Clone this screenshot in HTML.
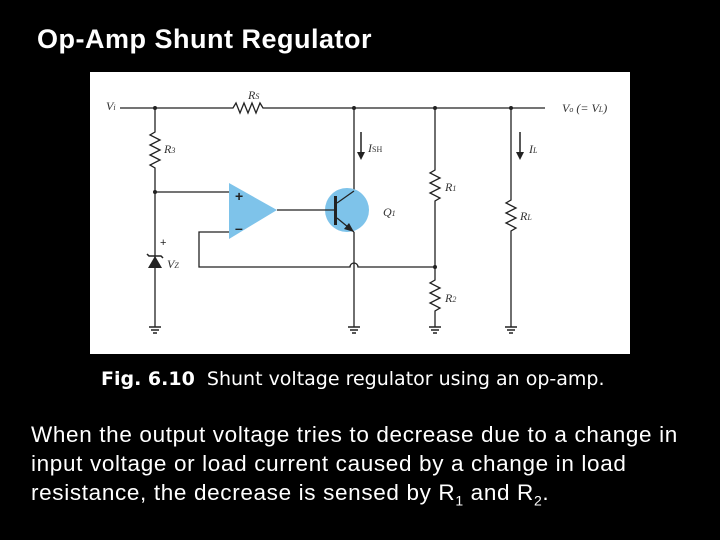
<!DOCTYPE html><html><head><style>
body{margin:0;width:720px;height:540px;background:#000;overflow:hidden;font-family:"Liberation Sans",sans-serif;position:relative}
.t{position:absolute;color:#fff;white-space:nowrap}
</style></head><body>
<div class="t" style="left:37px;top:24px;font-size:27px;font-weight:bold;letter-spacing:0.5px">Op-Amp Shunt Regulator</div>
<svg style="position:absolute;left:0;top:0" width="720" height="540">
<rect x="90" y="72" width="540" height="282" fill="#fff"/>
<g stroke="#222" stroke-width="1.3" fill="none">
<path d="M120 108H233 l3 -5 l4 10 l4 -10 l4 10 l4 -10 l4 10 l4 -10 l3 5 H545"/>
<path d="M155 108V132 l-5 3 l10 5 l-10 5 l10 5 l-10 5 l10 5 l-10 5 l5 3 V327"/>
<path d="M155 192H229"/>
<path d="M229 232H199V267H350 a4 4 0 0 1 8 0 H435"/>
<path d="M354 108V191 M354 232 V327"/>
<path d="M435 108V170 l-5 3 l10 5 l-10 5 l10 5 l-10 5 l10 5 l-5 3 V280 l-5 3 l10 5 l-10 5 l10 5 l-10 5 l10 5 l-5 3 V327"/>
<path d="M511 108V200 l-5 3 l10 5 l-10 5 l10 5 l-10 5 l10 5 l-5 3 V327"/>
</g>
<g fill="#222"><circle cx="155" cy="108" r="2"/><circle cx="155" cy="192" r="2"/><circle cx="354" cy="108" r="2"/><circle cx="435" cy="108" r="2"/><circle cx="511" cy="108" r="2"/><circle cx="435" cy="267" r="2"/></g>
<polygon points="229,183 229,239 277,210" fill="#7ec3ea"/>
<circle cx="347" cy="210" r="22" fill="#7ec3ea"/>
<g stroke="#222" stroke-width="1.3" fill="none">
<path d="M277 210H335 M354 191 L337 203 M337 218 L354 232"/>
</g>
<rect x="334" y="196" width="3" height="29" fill="#222"/>
<polygon points="354,232 344,229 349,223" fill="#222"/>
<text x="235" y="201" font-size="14" font-weight="bold" fill="#222">+</text>
<text x="235" y="233" font-size="14" font-weight="bold" fill="#222">–</text>
<polygon points="148,268 162,268 155,256" fill="#222"/>
<path d="M147 254 L149 256 H161 L163 258" stroke="#222" stroke-width="1.5" fill="none"/>
<text x="160" y="246" font-size="11" fill="#222">+</text>
<g stroke="#222" stroke-width="1.5">
<path d="M149 327h12M151 330h8M153 333h4"/><path d="M348 327h12M350 330h8M352 333h4"/>
<path d="M429 327h12M431 330h8M433 333h4"/><path d="M505 327h12M507 330h8M509 333h4"/>
<path d="M361 132V155M520 132V155"/></g>
<polygon points="357,152 365,152 361,160" fill="#222"/><polygon points="516,152 524,152 520,160" fill="#222"/>
<g font-family="Liberation Serif" font-style="italic" font-size="12" fill="#333">
<text x="106" y="110">V<tspan font-size="8">i</tspan></text>
<text x="248" y="99">R<tspan font-size="8">S</tspan></text>
<text x="164" y="153">R<tspan font-size="8">3</tspan></text>
<text x="167" y="268">V<tspan font-size="8">Z</tspan></text>
<text x="368" y="152">I<tspan font-size="8" font-style="normal">SH</tspan></text>
<text x="529" y="153">I<tspan font-size="8">L</tspan></text>
<text x="383" y="216">Q<tspan font-size="8">1</tspan></text>
<text x="445" y="191">R<tspan font-size="8">1</tspan></text>
<text x="445" y="302">R<tspan font-size="8">2</tspan></text>
<text x="520" y="220">R<tspan font-size="8">L</tspan></text>
<text x="562" y="112">V<tspan font-size="8">o</tspan> (= V<tspan font-size="8">L</tspan>)</text>
</g>
</svg>
<div class="t" style="left:101px;top:368px;font-size:19px;font-family:'DejaVu Sans',sans-serif"><b>Fig. 6.10</b>&nbsp; Shunt voltage regulator using an op-amp.</div>
<div class="t" style="left:31px;top:420px;font-size:22.5px;line-height:29px;letter-spacing:0.65px">When the output voltage tries to decrease due to a change in<br>input voltage or load current caused by a change in load<br>resistance, the decrease is sensed by R<sub style="font-size:14px">1</sub> and R<sub style="font-size:14px">2</sub>.</div>
</body></html>
